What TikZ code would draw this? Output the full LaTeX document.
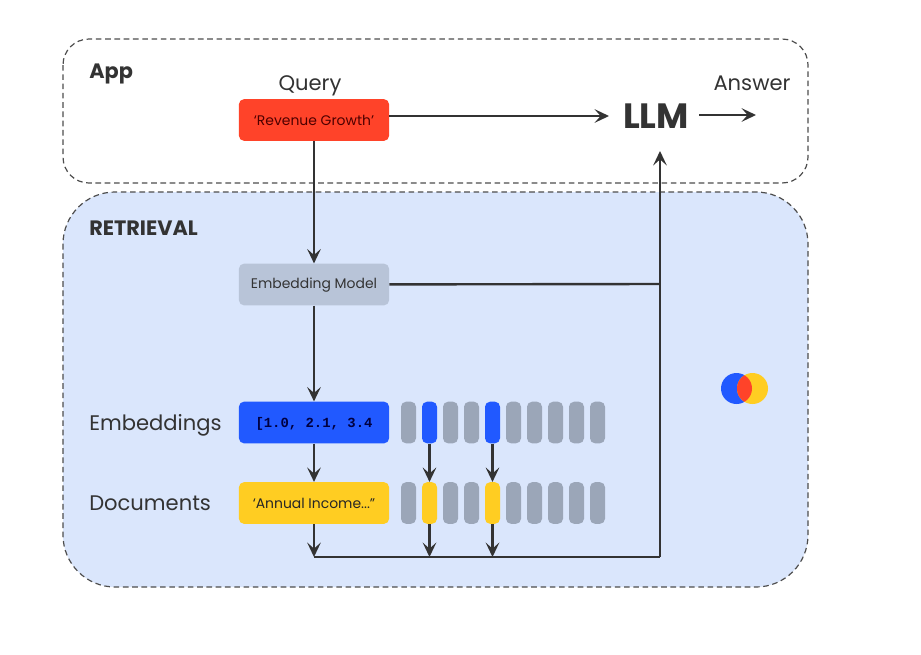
\documentclass[tikz,border=0pt]{standalone}
\usepackage{fontspec}
\setmainfont{Poppins}
\setmonofont{Liberation Mono}
\usepackage{xcolor}
\usetikzlibrary{arrows.meta,positioning}
\definecolor{inkgray}{HTML}{333333}
\definecolor{dashgray}{HTML}{4D4D4D}
\definecolor{queryred}{HTML}{FF4329}
\definecolor{embedblue}{HTML}{2159FF}
\definecolor{docyellow}{HTML}{FFCD22}
\definecolor{modelslate}{HTML}{B8C4D8}
\definecolor{bargray}{HTML}{9BA6B8}
\definecolor{paleblue}{HTML}{DAE6FC}
\tikzset{
  region/.style={draw=dashgray, line width=0.85pt, dash pattern=on 4pt off 2.6pt},
  block/.style={rounded corners=3.5pt, minimum width=3.75cm, minimum height=1.04cm, align=center, inner sep=0pt, text height=8.5pt, text=inkgray, font=\fontsize{9.9}{11}\selectfont},
  bar/.style={rounded corners=3.6pt, minimum width=0.375cm, minimum height=1.04cm, inner sep=0pt},
  label/.style={text=inkgray, inner sep=0pt, font=\fontsize{15}{18}\selectfont},
  title/.style={text=inkgray, inner sep=0pt, font=\fontsize{14.8}{17}\selectfont\bfseries},
  flow/.style={-{Stealth[length=3.6mm, width=3.4mm, inset=1.5mm]}, line width=1.7pt, inkgray},
  wire/.style={line width=1.7pt, inkgray}
}
\begin{document}
\begin{tikzpicture}[x=0.025cm,y=-0.025cm]
  \useasboundingbox (0,0) rectangle (921,654);

  \draw[region, fill=white, rounded corners=0.65cm] (63,39) rectangle (808,183);
  \draw[region, fill=paleblue, rounded corners=1.3cm] (63,192) rectangle (808,587);
  \node[title, anchor=west] (apptitle) at (89,74) {App};
  \node[title, anchor=west] (rettitle) at (89,228.5) {RETRIEVAL};

  \node[block, fill=queryred, text=black!70!red] (query) at (314,120) {‘Revenue Growth’};
  \node[label] (querylabel) at (310,86) {Query};
  \node[block, fill=modelslate] (model) at (314,284.5) {Embedding Model};
  \node[block, fill=embedblue, text=black!75!blue, font=\fontsize{9.9}{10}\ttfamily\bfseries] (embed) at (314,422.5) {[1.0, 2.1, 3.4};
  \node[block, fill=docyellow, text=black!85] (doc) at (314,503) {‘Annual Income...”};
  \node[label, anchor=west] (emblabel) at (89,425) {Embeddings};
  \node[label, anchor=west] (doclabel) at (89,503.5) {Documents};

  % chunks
  \foreach \n/\x/\embcol/\doccol in {1/408.5/bargray/bargray,2/429.5/embedblue/docyellow,3/450.5/bargray/bargray,4/471.5/bargray/bargray,5/492.5/embedblue/docyellow,6/513.5/bargray/bargray,7/534.5/bargray/bargray,8/555.5/bargray/bargray,9/576.5/bargray/bargray,10/597.5/bargray/bargray}
    {\node[bar, fill=\embcol] (emb\n) at (\x,422.5) {};
     \node[bar, fill=\doccol] (chunk\n) at (\x,503) {};}

  \node[inner sep=0pt, text=inkgray, font=\fontsize{25}{28}\selectfont\bfseries] (llm) at (656,116.5) {LLM};
  \node[label] (answer) at (752,83) {Answer};

  % free ends
  \coordinate (queryout) at (389,116);
  \coordinate (llmin) at (609,116);
  \coordinate (llmout) at (699,115);
  \coordinate (answerend) at (756,115);
  \coordinate (llmbelow) at (660,151);
  \coordinate (join) at (660,284);
  \coordinate (busstart) at (314,557);
  \coordinate (buscorner) at (660,557);

  \draw[flow] (queryout) -- (llmin);
  \draw[flow] (llmout) -- (answerend);
  \draw[flow] (query) -- (model);
  \draw[flow] (model) -- (embed);
  \draw[flow] (embed) -- (doc);
  \draw[flow] (doc) -- (busstart);
  \draw[flow] (emb2) -- (chunk2);
  \draw[flow] (emb5) -- (chunk5);
  \draw[flow] (chunk2) -- (chunk2 |- busstart);
  \draw[flow] (chunk5) -- (chunk5 |- busstart);
  \draw[wire] (model) -- (join);
  \draw[wire] (busstart) -- (buscorner);
  \draw[flow] (buscorner) -- (llmbelow);

  % logo
  \fill[embedblue] (736.5,388.5) circle (15.5);
  \fill[docyellow] (752.5,388.5) circle (15.5);
  \begin{scope}
    \clip (736.5,388.5) circle (15.5);
    \fill[queryred] (752.5,388.5) circle (15.5);
  \end{scope}
\end{tikzpicture}
\end{document}
